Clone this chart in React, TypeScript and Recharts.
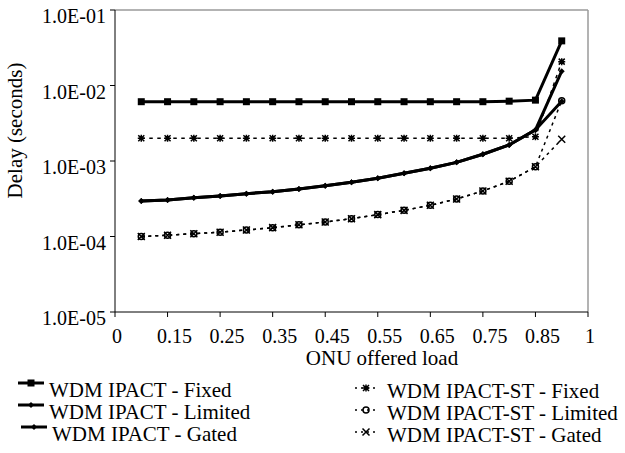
import { LineChart, Line, XAxis, YAxis, ReferenceLine } from "recharts";

document.body.style.margin = "0";

const FONT = "Liberation Serif, Tinos, Times New Roman, DejaVu Serif, serif";

const xCategories = ["0", "0.1", "0.15", "0.2", "0.25", "0.3", "0.35", "0.4", "0.45", "0.5", "0.55", "0.6", "0.65", "0.7", "0.75", "0.8", "0.85", "0.9", "1"];

// values for loads 0.1 .. 0.9
const ipactFixed = [6.1e-3, 6.1e-3, 6.1e-3, 6.1e-3, 6.1e-3, 6.1e-3, 6.1e-3, 6.1e-3, 6.1e-3, 6.1e-3, 6.1e-3, 6.1e-3, 6.1e-3, 6.1e-3, 6.2e-3, 6.4e-3, 3.9e-2];
const ipactLimited = [2.95e-4, 3.04e-4, 3.26e-4, 3.44e-4, 3.69e-4, 3.92e-4, 4.26e-4, 4.71e-4, 5.22e-4, 5.9e-4, 6.87e-4, 8.0e-4, 9.6e-4, 1.23e-3, 1.63e-3, 2.58e-3, 1.55e-2];
const ipactGated = [2.95e-4, 3.04e-4, 3.26e-4, 3.44e-4, 3.69e-4, 3.92e-4, 4.26e-4, 4.71e-4, 5.22e-4, 5.9e-4, 6.87e-4, 8.0e-4, 9.6e-4, 1.23e-3, 1.63e-3, 2.58e-3, 6.2e-3];
const stFixed = [2.0e-3, 2.0e-3, 2.0e-3, 2.0e-3, 2.0e-3, 2.0e-3, 2.0e-3, 2.0e-3, 2.0e-3, 2.0e-3, 2.0e-3, 2.0e-3, 2.0e-3, 2.0e-3, 2.0e-3, 2.1e-3, 2.07e-2];
const stLimited = [1.0e-4, 1.04e-4, 1.09e-4, 1.14e-4, 1.22e-4, 1.31e-4, 1.43e-4, 1.56e-4, 1.72e-4, 1.95e-4, 2.22e-4, 2.59e-4, 3.14e-4, 4.01e-4, 5.38e-4, 8.4e-4, 6.3e-3];
const stGated = [1.0e-4, 1.04e-4, 1.09e-4, 1.14e-4, 1.22e-4, 1.31e-4, 1.43e-4, 1.56e-4, 1.72e-4, 1.95e-4, 2.22e-4, 2.59e-4, 3.14e-4, 4.01e-4, 5.38e-4, 8.4e-4, 1.94e-3];

const yTicks = [1e-5, 1e-4, 1e-3, 1e-2, 1e-1];
const yTickLabels = ["1.0E-05", "1.0E-04", "1.0E-03", "1.0E-02", "1.0E-01"];

const seriesNames = [
  "WDM IPACT - Fixed",
  "WDM IPACT - Limited",
  "WDM IPACT - Gated",
  "WDM IPACT-ST - Fixed",
  "WDM IPACT-ST - Limited",
  "WDM IPACT-ST - Gated",
];

const data = xCategories.map((x, i) => {
  const k = i - 1;
  const pick = (arr: number[]) => (k >= 0 && k < arr.length ? arr[k] : null);
  return {
    x,
    ipactFixed: pick(ipactFixed),
    ipactLimited: pick(ipactLimited),
    ipactGated: pick(ipactGated),
    stFixed: pick(stFixed),
    stLimited: pick(stLimited),
    stGated: pick(stGated),
  };
});

function Square({ cx, cy }: any) {
  return <rect x={cx - 3.5} y={cy - 3.5} width={7} height={7} fill="#000" />;
}
function Diamond({ cx, cy }: any) {
  return <path d={`M${cx},${cy - 3} L${cx + 3},${cy} L${cx},${cy + 3} L${cx - 3},${cy} Z`} fill="#000" />;
}
function Star({ cx, cy }: any) {
  return (
    <path
      d={`M${cx - 3},${cy - 3} L${cx + 3},${cy + 3} M${cx - 3},${cy + 3} L${cx + 3},${cy - 3} M${cx},${cy - 3.5} L${cx},${cy + 3.5} M${cx - 3.5},${cy} L${cx + 3.5},${cy}`}
      stroke="#000"
      strokeWidth={1.5}
    />
  );
}
function Ring({ cx, cy }: any) {
  return <circle cx={cx} cy={cy} r={3} fill="none" stroke="#000" strokeWidth={1.5} />;
}
function Cross({ cx, cy }: any) {
  return (
    <path
      d={`M${cx - 3.5},${cy - 3.5} L${cx + 3.5},${cy + 3.5} M${cx - 3.5},${cy + 3.5} L${cx + 3.5},${cy - 3.5}`}
      stroke="#000"
      strokeWidth={1.5}
    />
  );
}

const dotOf = (Shape: any) => (props: any) => {
  const { cx, cy, index, value } = props;
  if (value == null || cy == null || isNaN(cy)) return <g key={`d${index}`} />;
  return (
    <g key={`d${index}`}>
      <Shape cx={cx} cy={cy} />
    </g>
  );
};

const textStyle = { fontFamily: FONT };

function YTick({ x, y, payload }: any) {
  const i = yTicks.findIndex((t) => Math.abs(t - payload.value) / t < 1e-6);
  return (
    <text x={x} y={y + 13} textAnchor="end" fontSize={20} style={textStyle} fill="#000">
      {i >= 0 ? yTickLabels[i] : ""}
    </text>
  );
}

function XTick({ x, y, payload }: any) {
  const label = String(payload.value);
  const dx = label.length > 1 ? 7 : 2;
  return (
    <text x={x + dx} y={y + 24} textAnchor="middle" fontSize={20} style={textStyle} fill="#000">
      {label}
    </text>
  );
}

const leftShapes = [Square, Diamond, Diamond];
const rightShapes = [Star, Ring, Cross];

export default function App() {
  return (
    <div style={{ position: "relative", width: 625, height: 453, background: "#fff" }}>
      <LineChart width={625} height={453} data={data} margin={{ top: 10, right: 37, left: 0, bottom: 101 }}>
        <XAxis
          dataKey="x"
          interval={1}
          height={40}
          tickSize={5}
          tickMargin={2}
          tick={<XTick />}
          axisLine={{ stroke: "#000" }}
          tickLine={{ stroke: "#000" }}
        />
        <YAxis
          scale="log"
          domain={[1e-5, 1e-1]}
          ticks={yTicks}
          allowDataOverflow
          width={115}
          tickSize={5}
          tickMargin={4}
          tick={<YTick />}
          axisLine={{ stroke: "#000" }}
          tickLine={{ stroke: "#000" }}
        />
        <ReferenceLine y={1e-1} stroke="#9a9a9a" strokeWidth={1.5} />
        <ReferenceLine x="1" stroke="#9a9a9a" strokeWidth={1.5} />
        <Line dataKey="stLimited" stroke="#000" strokeWidth={1.5} strokeDasharray="3 4" dot={dotOf(Ring)} isAnimationActive={false} />
        <Line dataKey="stGated" stroke="#000" strokeWidth={1.5} strokeDasharray="3 4" dot={dotOf(Cross)} isAnimationActive={false} />
        <Line dataKey="stFixed" stroke="#000" strokeWidth={1.5} strokeDasharray="3.5 4.5" dot={dotOf(Star)} isAnimationActive={false} />
        <Line dataKey="ipactGated" stroke="#000" strokeWidth={3} dot={dotOf(Diamond)} isAnimationActive={false} />
        <Line dataKey="ipactLimited" stroke="#000" strokeWidth={3} dot={dotOf(Diamond)} isAnimationActive={false} />
        <Line dataKey="ipactFixed" stroke="#000" strokeWidth={3} dot={dotOf(Square)} isAnimationActive={false} />
      </LineChart>
      <svg width={625} height={453} style={{ position: "absolute", left: 0, top: 0, pointerEvents: "none" }}>
        <text x={382} y={365} textAnchor="middle" fontSize={21} style={textStyle} fill="#000">
          ONU offered load
        </text>
        <text x={22} y={130.5} transform="rotate(-90 22 130.5)" textAnchor="middle" fontSize={21} style={textStyle} fill="#000">
          Delay (seconds)
        </text>
        {seriesNames.slice(0, 3).map((name, i) => {
          const base = 397 + i * 22;
          const dx = i === 2 ? 3 : 0;
          const Shape = leftShapes[i];
          return (
            <g key={name}>
              <line x1={18 + dx} x2={44 + dx} y1={base - 14} y2={base - 14} stroke="#000" strokeWidth={3} />
              <Shape cx={31 + dx} cy={base - 14} />
              <text x={49 + dx} y={base} fontSize={21} style={textStyle} fill="#000">
                {name}
              </text>
            </g>
          );
        })}
        {seriesNames.slice(3).map((name, i) => {
          const base = 398 + i * 22;
          const Shape = rightShapes[i];
          return (
            <g key={name}>
              <line x1={355} x2={378} y1={base - 10} y2={base - 10} stroke="#000" strokeWidth={1.5} strokeDasharray="2 4" />
              <Shape cx={366} cy={base - 10} />
              <text x={387} y={base} fontSize={21} style={textStyle} fill="#000">
                {name}
              </text>
            </g>
          );
        })}
      </svg>
    </div>
  );
}
